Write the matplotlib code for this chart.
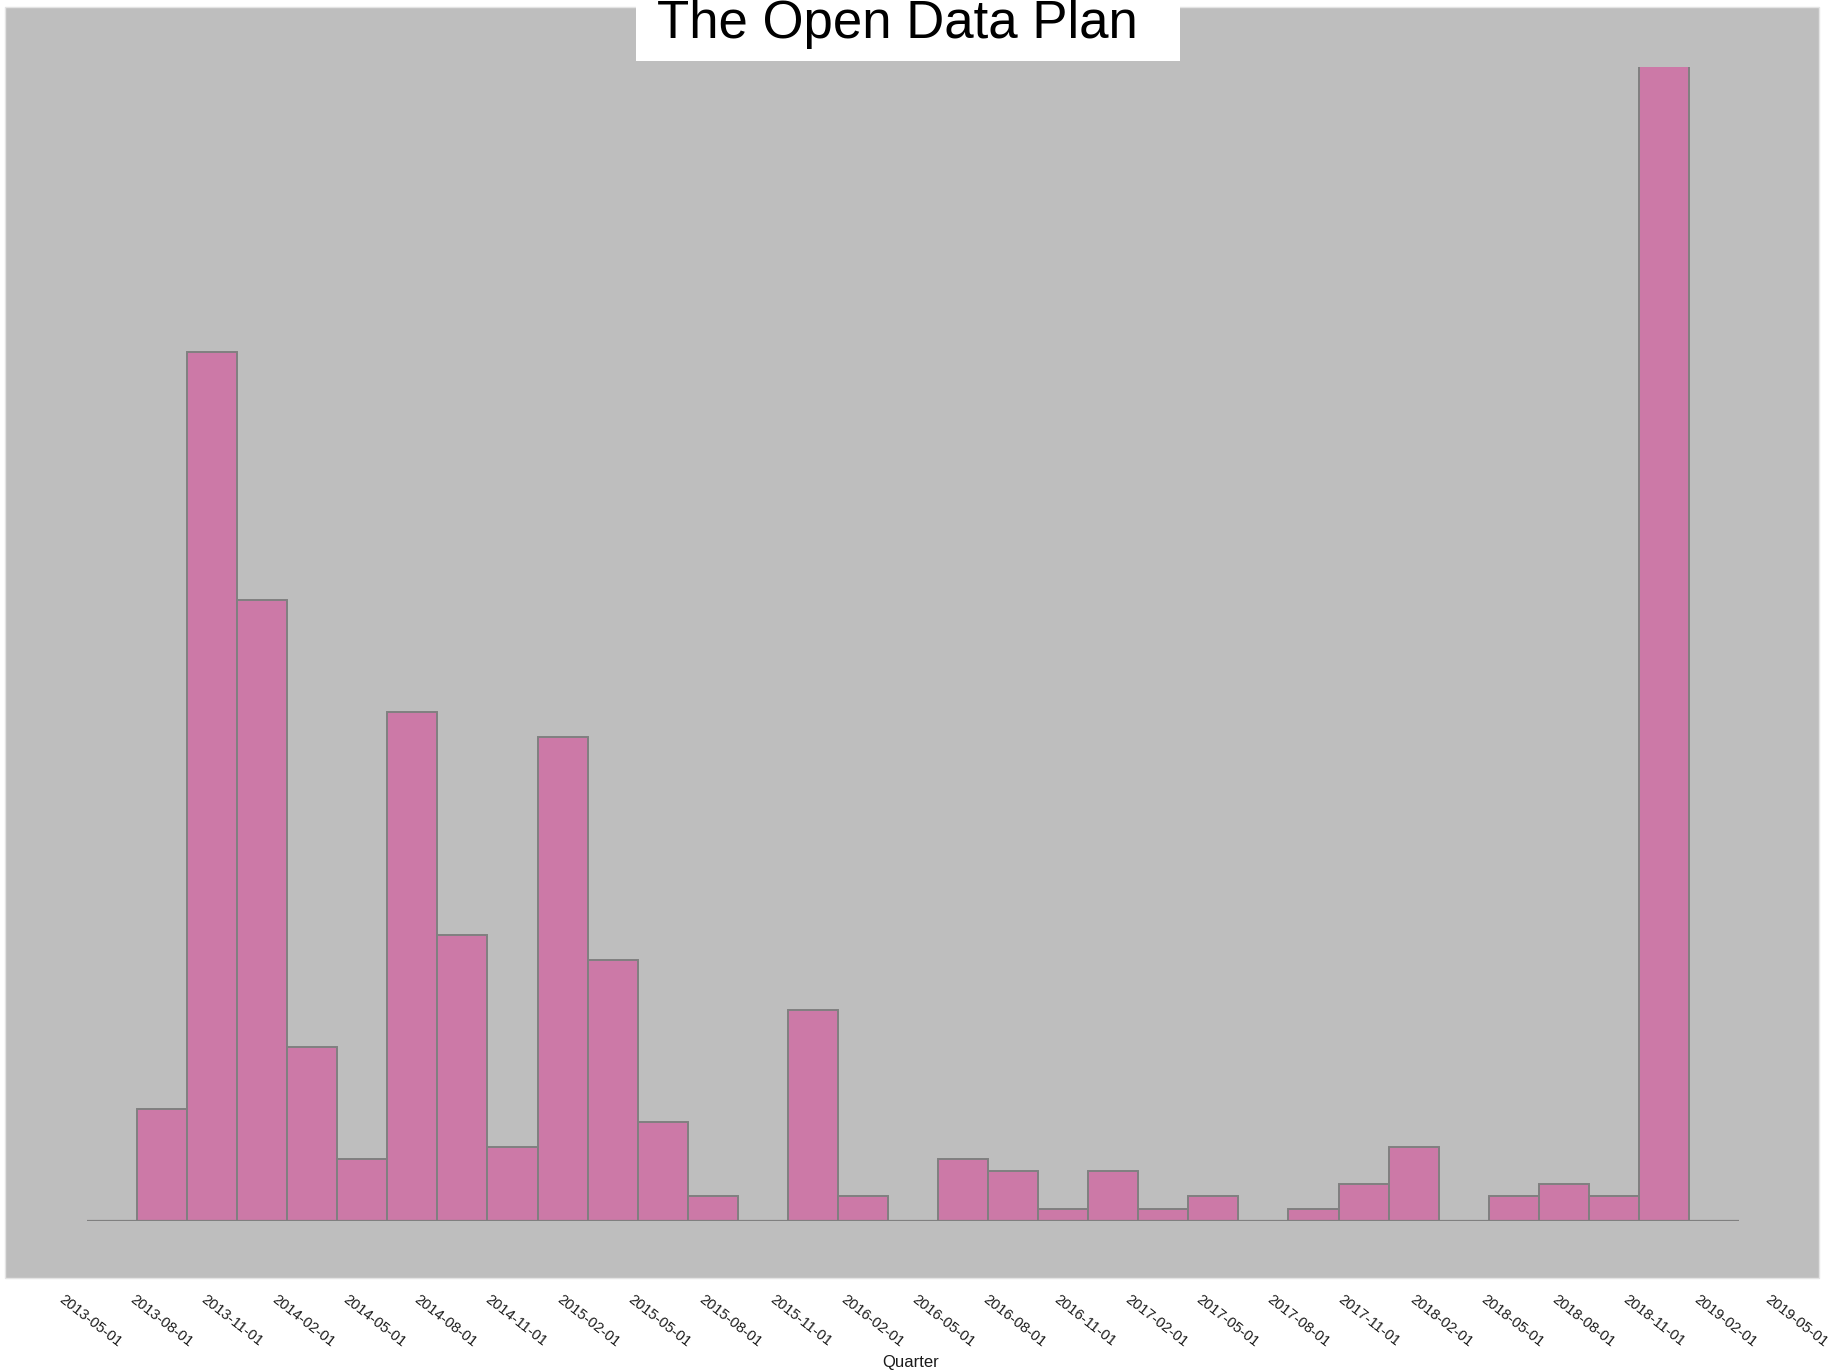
import matplotlib
matplotlib.use("Agg")
import matplotlib.pyplot as plt
from matplotlib.patches import Rectangle

plt.rcParams['font.family'] = ['Liberation Sans', 'DejaVu Sans']

# counts per band (33 bands, empty bands are 0)
counts = [0, 9, 70, 50, 14, 5, 41, 23, 6, 39, 21, 8, 2, 0, 17, 2, 0,
          5, 4, 1, 4, 1, 2, 0, 1, 3, 6, 0, 2, 3, 2, 93, 0]

# quarterly tick labels of the time axis
quarters = ["2013-05-01", "2013-08-01", "2013-11-01", "2014-02-01", "2014-05-01",
            "2014-08-01", "2014-11-01", "2015-02-01", "2015-05-01", "2015-08-01",
            "2015-11-01", "2016-02-01", "2016-05-01", "2016-08-01", "2016-11-01",
            "2017-02-01", "2017-05-01", "2017-08-01", "2017-11-01", "2018-02-01",
            "2018-05-01", "2018-08-01", "2018-11-01", "2019-02-01", "2019-05-01"]

W, H = 1829, 1371
fig = plt.figure(figsize=(W / 100, H / 100), dpi=100)

# grey panel behind the plot
fig.patches.append(Rectangle((5 / W, (H - 1278) / H), 1814 / W, 1271 / H,
                             transform=fig.transFigure, facecolor="#bebebe",
                             edgecolor="#e4e4e4", lw=1, zorder=0))
# white box behind the title
fig.patches.append(Rectangle((636 / W, (H - 61) / H), 544 / W, 61 / H,
                             transform=fig.transFigure, facecolor="white",
                             edgecolor="none", zorder=1))

ax = fig.add_axes([87 / W, (H - 1221) / H, 1652 / W, 1154.5 / H])
ax.set_zorder(3)
ax.patch.set_visible(False)
ax.bar(range(len(counts)), counts, width=1, color="#cc79a7",
       edgecolor="#808080", linewidth=1.4, zorder=2)
ax.set_xlim(-0.5, len(counts) - 0.5)
ax.set_ylim(0, max(counts))
ax.axhline(0, color="#808080", lw=1.6, zorder=3)
for s in ax.spines.values():
    s.set_visible(False)
ax.set_xticks([])
ax.set_yticks([])

# separate axis for the quarter labels
lab = fig.add_axes([65 / W, (H - 1292) / H, (1771 - 65) / W, 0.001])
lab.set_zorder(3)
lab.axis("off")
lab.set_xlim(0, len(quarters) - 1)
lab.set_ylim(0, 1)
for i, q in enumerate(quarters):
    lab.text(i, 0, q, rotation=-38, rotation_mode="anchor", ha="left", va="top",
             fontsize=10.5, color="#1a1a1a", clip_on=False)

fig.text(897 / W, (H - 38) / H, "The Open Data Plan", ha="center", va="baseline",
         fontsize=38, color="black", zorder=5)
fig.text(911 / W, (H - 1367) / H, "Quarter", ha="center", va="baseline",
         fontsize=12, color="#1a1a1a")

fig.savefig("out.png", dpi=100)
